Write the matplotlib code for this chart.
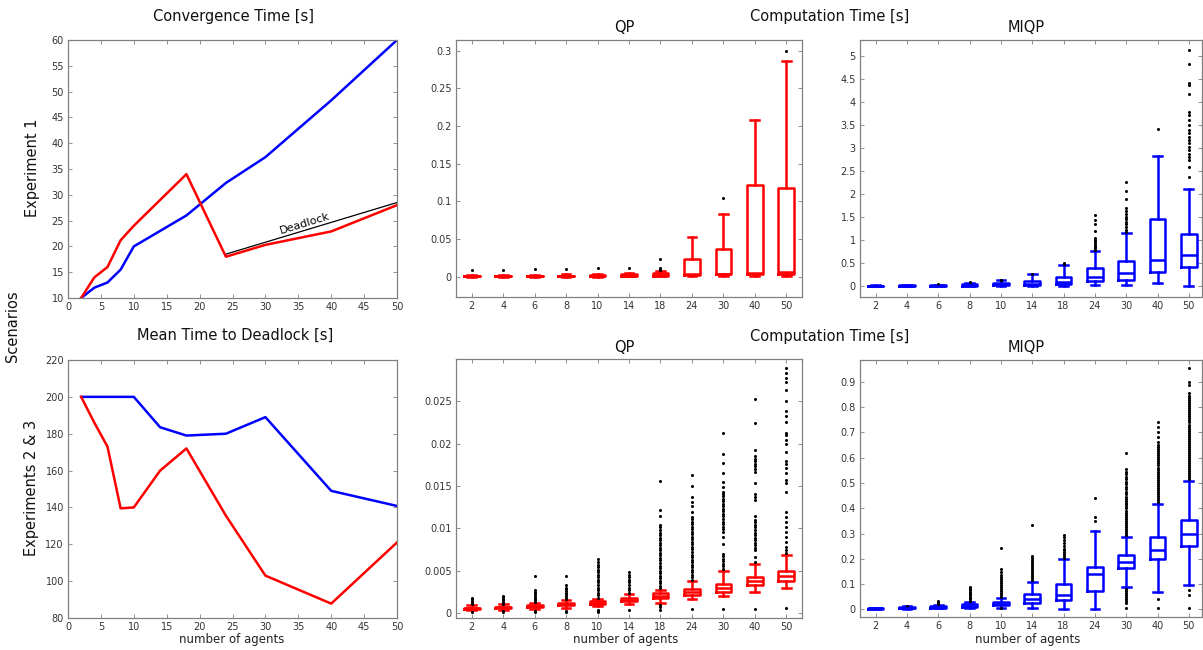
import matplotlib
matplotlib.use("Agg")
import matplotlib.pyplot as plt
from matplotlib.ticker import FuncFormatter

# ---------------- data ----------------
agents = [2, 4, 6, 8, 10, 14, 18, 24, 30, 40, 50]
agent_labels = [str(a) for a in agents]

# Experiment 1, convergence time
conv_blue = [10, 12, 13, 15.5, 20, 23, 26, 32.3, 37.3, 48.3, 60]
conv_red = [10, 14, 16, 21.2, 24, 29, 34, 18, 20.3, 22.9, 28]
deadlock_x = [24, 50]
deadlock_y = [18.5, 28.5]

# Experiments 2 & 3, mean time to deadlock
dl_blue = [200, 200, 200, 200, 200, 183.5, 179, 180, 189, 149, 140.8]
dl_red = [200, 186, 173, 139.5, 140, 160, 172, 135.5, 103, 87.8, 121]

# Experiment 1, QP computation time
e1qp_q1 = [0.0003, 0.0003, 0.0004, 0.0005, 0.0007, 0.001, 0.0015, 0.002, 0.003, 0.003, 0.004]
e1qp_med = [0.0006, 0.0006, 0.0007, 0.0009, 0.0011, 0.0015, 0.0025, 0.003, 0.004, 0.005, 0.006]
e1qp_q3 = [0.001, 0.001, 0.0012, 0.0015, 0.002, 0.003, 0.005, 0.024, 0.037, 0.122, 0.117]
e1qp_lo = [0.0001, 0.0001, 0.0001, 0.0002, 0.0002, 0.0003, 0.0005, 0.001, 0.001, 0.001, 0.001]
e1qp_hi = [0.002, 0.002, 0.0025, 0.003, 0.004, 0.005, 0.008, 0.052, 0.083, 0.208, 0.286]
e1qp_fliers = [[0.009], [0.009], [0.010], [0.010], [0.011], [0.012],
               [0.009, 0.010, 0.011, 0.023], [], [0.105], [], [0.299]]

# Experiment 1, MIQP computation time
e1mi_q1 = [0.003, 0.004, 0.006, 0.01, 0.02, 0.02, 0.043, 0.10, 0.138, 0.31, 0.406]
e1mi_med = [0.005, 0.007, 0.01, 0.02, 0.04, 0.05, 0.094, 0.196, 0.275, 0.572, 0.68]
e1mi_q3 = [0.008, 0.011, 0.018, 0.04, 0.07, 0.109, 0.196, 0.384, 0.543, 1.449, 1.13]
e1mi_lo = [0.001, 0.001, 0.002, 0.003, 0.005, 0.005, 0.005, 0.02, 0.03, 0.065, 0.0]
e1mi_hi = [0.015, 0.02, 0.03, 0.07, 0.12, 0.26, 0.449, 0.761, 1.145, 2.833, 2.109]
e1mi_fliers = [[], [], [0.035], [0.08], [0.13, 0.14], [0.27], [0.47, 0.50],
               [0.79, 0.82, 0.85, 0.88, 0.92, 0.96, 1.00, 1.04, 1.20, 1.35, 1.43, 1.54],
               [1.17, 1.22, 1.28, 1.34, 1.40, 1.45, 1.50, 1.56, 1.63, 1.70, 1.89, 2.07, 2.27],
               [3.41],
               [2.38, 2.59, 2.74, 2.81, 2.88, 2.96, 3.03, 3.10, 3.17, 3.25, 3.32, 3.39,
                3.50, 3.61, 3.72, 3.79, 4.17, 4.37, 4.42, 4.82, 5.13]]

# Experiments 2 & 3, QP computation time
e2qp_q1 = [0.0005, 0.0006, 0.00072, 0.0009, 0.0011, 0.0014, 0.0018, 0.00217, 0.0025, 0.0033, 0.0038]
e2qp_med = [0.00055, 0.00066, 0.0008, 0.001, 0.0012, 0.00155, 0.002, 0.0025, 0.003, 0.0038, 0.0044]
e2qp_q3 = [0.00062, 0.00072, 0.0009, 0.00112, 0.00135, 0.00172, 0.0023, 0.00287, 0.00347, 0.0043, 0.005]
e2qp_lo = [0.0003, 0.0004, 0.0005, 0.0006, 0.0008, 0.001, 0.0012, 0.0017, 0.002, 0.0025, 0.0029]
e2qp_hi = [0.0009, 0.001, 0.0012, 0.0015, 0.0017, 0.0022, 0.0027, 0.00374, 0.005, 0.0058, 0.0068]
e2qp_fliers = [
    [0.0001, 0.0010, 0.0012, 0.0014, 0.0016, 0.0018],
    [0.0001, 0.0002, 0.0011, 0.0013, 0.0015, 0.0017, 0.0019, 0.0020],
    [0.0001, 0.0002, 0.0013, 0.0015, 0.0017, 0.0019, 0.0021, 0.0023, 0.0025, 0.0027, 0.0044],
    [0.0001, 0.0002, 0.0016, 0.0018, 0.0020, 0.0022, 0.0024, 0.0026, 0.0028, 0.0030, 0.0033, 0.0044],
    [0.0001, 0.0002, 0.0003, 0.0018, 0.0021, 0.0024, 0.0027, 0.0030, 0.0033, 0.0036, 0.0039,
     0.0042, 0.0045, 0.0048, 0.0051, 0.0054, 0.0057, 0.0060, 0.0064],
    [0.0003, 0.0024, 0.0027, 0.0030, 0.0033, 0.0036, 0.0039, 0.0042, 0.0045, 0.0048],
    [0.0004, 0.0007, 0.0009, 0.0029, 0.0032, 0.0035, 0.0038, 0.0041, 0.0044, 0.0047, 0.0050,
     0.0053, 0.0056, 0.0059, 0.0062, 0.0065, 0.0068, 0.0071, 0.0074, 0.0077, 0.0080, 0.0083,
     0.0086, 0.0089, 0.0092, 0.0095, 0.0098, 0.0101, 0.0104, 0.0115, 0.0122, 0.0156],
    [0.0005, 0.0039, 0.0042, 0.0045, 0.0048, 0.0051, 0.0054, 0.0057, 0.0060, 0.0063, 0.0066,
     0.0069, 0.0072, 0.0075, 0.0078, 0.0081, 0.0084, 0.0087, 0.0090, 0.0093, 0.0096, 0.0099,
     0.0102, 0.0105, 0.0108, 0.0111, 0.0113, 0.0119, 0.0126, 0.0131, 0.0137, 0.0150, 0.0163],
    [0.0005, 0.0052, 0.0055, 0.0058, 0.0061, 0.0064, 0.0067, 0.0070, 0.0082, 0.0090, 0.0096,
     0.0099, 0.0102, 0.0105, 0.0108, 0.0111, 0.0114, 0.0117, 0.0120, 0.0123, 0.0126, 0.0129,
     0.0132, 0.0135, 0.0138, 0.0141, 0.0143, 0.0149, 0.0155, 0.0165, 0.0177, 0.0188, 0.0213],
    [0.0005, 0.0060, 0.0066, 0.0074, 0.0077, 0.0080, 0.0083, 0.0086, 0.0089, 0.0092, 0.0095,
     0.0098, 0.0101, 0.0104, 0.0107, 0.0110, 0.0115, 0.0133, 0.0137, 0.0141, 0.0153, 0.0167,
     0.0170, 0.0173, 0.0176, 0.0179, 0.0182, 0.0185, 0.0193, 0.0224, 0.0253],
    [0.0006, 0.0071, 0.0074, 0.0078, 0.0084, 0.0090, 0.0096, 0.0102, 0.0107, 0.0113, 0.0119,
     0.0143, 0.0153, 0.0157, 0.0165, 0.0171, 0.0176, 0.0180, 0.0190, 0.0200, 0.0204, 0.0210,
     0.0212, 0.0226, 0.0233, 0.0239, 0.0250, 0.0263, 0.0273, 0.0277, 0.0283, 0.0289],
]

# Experiments 2 & 3, MIQP computation time
e2mi_q1 = [0.003, 0.005, 0.007, 0.011, 0.017, 0.026, 0.037, 0.074, 0.162, 0.198, 0.25]
e2mi_med = [0.004, 0.007, 0.010, 0.015, 0.022, 0.040, 0.057, 0.14, 0.187, 0.235, 0.30]
e2mi_q3 = [0.005, 0.009, 0.013, 0.020, 0.028, 0.059, 0.099, 0.169, 0.215, 0.285, 0.353]
e2mi_lo = [0.002, 0.003, 0.004, 0.005, 0.007, 0.005, 0.003, 0.003, 0.087, 0.067, 0.096]
e2mi_hi = [0.007, 0.012, 0.018, 0.03, 0.0435, 0.107, 0.198, 0.311, 0.287, 0.416, 0.507]
e2mi_fliers = [
    [],
    [0.015],
    [0.021, 0.025, 0.029, 0.033],
    [0.035, 0.040, 0.045, 0.050, 0.055, 0.060, 0.065, 0.070, 0.075, 0.080, 0.085, 0.090],
    [0.005, 0.050, 0.058, 0.066, 0.074, 0.082, 0.090, 0.098, 0.106, 0.114, 0.122, 0.130,
     0.138, 0.146, 0.158, 0.244],
    [0.115, 0.123, 0.131, 0.139, 0.147, 0.155, 0.163, 0.171, 0.179, 0.187, 0.195, 0.203,
     0.211, 0.335],
    [0.205, 0.212, 0.219, 0.226, 0.233, 0.240, 0.250, 0.261, 0.275, 0.285, 0.294],
    [0.350, 0.366, 0.439],
    [0.004, 0.024, 0.032, 0.040, 0.048, 0.056, 0.064, 0.072, 0.080,
     0.295, 0.303, 0.311, 0.319, 0.327, 0.335, 0.343, 0.351, 0.359, 0.367, 0.375, 0.383,
     0.391, 0.399, 0.407, 0.415, 0.422, 0.430, 0.437, 0.445, 0.455, 0.465, 0.475, 0.485,
     0.495, 0.505, 0.515, 0.525, 0.535, 0.545, 0.557, 0.617],
    [0.004, 0.043, 0.425, 0.433, 0.441, 0.449, 0.457, 0.465, 0.473, 0.481, 0.489, 0.497,
     0.505, 0.513, 0.521, 0.529, 0.537, 0.545, 0.553, 0.561, 0.569, 0.577, 0.585, 0.593,
     0.601, 0.609, 0.617, 0.625, 0.633, 0.641, 0.649, 0.662, 0.682, 0.702, 0.722, 0.742],
    [0.004, 0.057, 0.076, 0.515, 0.523, 0.531, 0.539, 0.547, 0.555, 0.563, 0.571, 0.579,
     0.587, 0.595, 0.603, 0.611, 0.619, 0.627, 0.635, 0.643, 0.651, 0.659, 0.667, 0.675,
     0.683, 0.691, 0.699, 0.707, 0.715, 0.723, 0.731, 0.739, 0.747, 0.755, 0.763, 0.771,
     0.779, 0.787, 0.795, 0.803, 0.811, 0.819, 0.827, 0.835, 0.843, 0.854, 0.887, 0.900,
     0.953],
]

# ---------------- figure ----------------
W, H = 1203, 650
fig = plt.figure(figsize=(W / 100, H / 100), dpi=100)
fig.patch.set_facecolor("white")


def rect(x0, y0, x1, y1):
    return [x0 / W, 1 - y1 / H, (x1 - x0) / W, (y1 - y0) / H]


def ftext(x, y, s, **kw):
    fig.text(x / W, 1 - y / H, s, ha="center", va="center", **kw)


gfmt = FuncFormatter(lambda v, p: "%g" % round(v, 6))
BLUE = "#0000ff"
RED = "#ff0000"


def style(ax):
    for sp in ax.spines.values():
        sp.set_color("#808080")
        sp.set_linewidth(0.9)
    ax.tick_params(direction="in", length=3, width=0.6, colors="#808080",
                   labelcolor="#333333", labelsize=7, top=True, right=True, pad=3)


def boxes(ax, q1, med, q3, lo, hi, fl, color):
    stats = []
    for i in range(len(q1)):
        stats.append(dict(q1=q1[i], med=med[i], q3=q3[i], whislo=lo[i],
                          whishi=hi[i], fliers=fl[i]))
    lp = dict(color=color, linewidth=1.8)
    ax.bxp(stats, positions=range(1, len(q1) + 1), widths=0.5, capwidths=0.28,
           boxprops=lp, medianprops=lp, whiskerprops=lp, capprops=lp,
           flierprops=dict(marker="o", markersize=2.2, markerfacecolor="k",
                           markeredgecolor="none", linestyle="none"))
    ax.set_xlim(0.5, 11.5)
    ax.set_xticks(range(1, 12))
    ax.set_xticklabels(agent_labels)
    ax.yaxis.set_major_formatter(gfmt)
    style(ax)


# top left: convergence time
ax = fig.add_axes(rect(68, 40, 397, 298))
ax.plot(agents, conv_blue, color=BLUE, lw=1.8)
ax.plot(deadlock_x, deadlock_y, color="k", lw=0.9)
ax.plot(agents, conv_red, color=RED, lw=1.8)
ax.text(36, 24.4, "Deadlock", rotation=17, ha="center", va="center", fontsize=8)
ax.set_xlim(0, 50)
ax.set_ylim(10, 60)
ax.set_xticks(range(0, 51, 5))
ax.set_yticks(range(10, 61, 5))
style(ax)

# bottom left: mean time to deadlock
ax = fig.add_axes(rect(68, 360, 397, 618))
ax.plot(agents, dl_blue, color=BLUE, lw=1.8)
ax.plot(agents, dl_red, color=RED, lw=1.8)
ax.set_xlim(0, 50)
ax.set_ylim(80, 220)
ax.set_xticks(range(0, 51, 5))
ax.set_yticks(range(80, 221, 20))
style(ax)

# top middle: QP, experiment 1
ax = fig.add_axes(rect(456, 40, 802, 297))
boxes(ax, e1qp_q1, e1qp_med, e1qp_q3, e1qp_lo, e1qp_hi, e1qp_fliers, RED)
ax.set_ylim(-0.027, 0.314)
ax.set_yticks([0, 0.05, 0.1, 0.15, 0.2, 0.25, 0.3])

# top right: MIQP, experiment 1
ax = fig.add_axes(rect(860, 40, 1202, 297))
boxes(ax, e1mi_q1, e1mi_med, e1mi_q3, e1mi_lo, e1mi_hi, e1mi_fliers, BLUE)
ax.set_xlim(0.5, 11.42)
ax.set_ylim(-0.24, 5.35)
ax.set_yticks([0, 0.5, 1, 1.5, 2, 2.5, 3, 3.5, 4, 4.5, 5])

# bottom middle: QP, experiments 2 & 3
ax = fig.add_axes(rect(456, 359, 802, 618))
boxes(ax, e2qp_q1, e2qp_med, e2qp_q3, e2qp_lo, e2qp_hi, e2qp_fliers, RED)
ax.set_ylim(-0.0006, 0.0300)
ax.set_yticks([0, 0.005, 0.01, 0.015, 0.02, 0.025])

# bottom right: MIQP, experiments 2 & 3
ax = fig.add_axes(rect(860, 360, 1202, 617))
boxes(ax, e2mi_q1, e2mi_med, e2mi_q3, e2mi_lo, e2mi_hi, e2mi_fliers, BLUE)
ax.set_xlim(0.5, 11.42)
ax.set_ylim(-0.03, 0.986)
ax.set_yticks([0, 0.1, 0.2, 0.3, 0.4, 0.5, 0.6, 0.7, 0.8, 0.9])

# titles and labels
tk = dict(fontsize=10.5, color="#111111")
ftext(234, 16, "Convergence Time [s]", **tk)
ftext(235, 335, "Mean Time to Deadlock [s]", **tk)
ftext(830, 16, "Computation Time [s]", **tk)
ftext(830, 336, "Computation Time [s]", **tk)
ftext(624, 28, "QP", **tk)
ftext(1026, 28, "MIQP", **tk)
ftext(624, 348, "QP", **tk)
ftext(1026, 348, "MIQP", **tk)
ftext(32, 168, "Experiment 1", rotation=90, **tk)
ftext(32, 488, "Experiments 2 & 3", rotation=90, **tk)
ftext(12, 326, "Scenarios", rotation=90, **tk)
lk = dict(fontsize=8.5, color="#222222")
ftext(232, 639, "number of agents", **lk)
ftext(626, 639, "number of agents", **lk)
ftext(1028, 639, "number of agents", **lk)

fig.savefig("out.png", dpi=100, facecolor="white")
